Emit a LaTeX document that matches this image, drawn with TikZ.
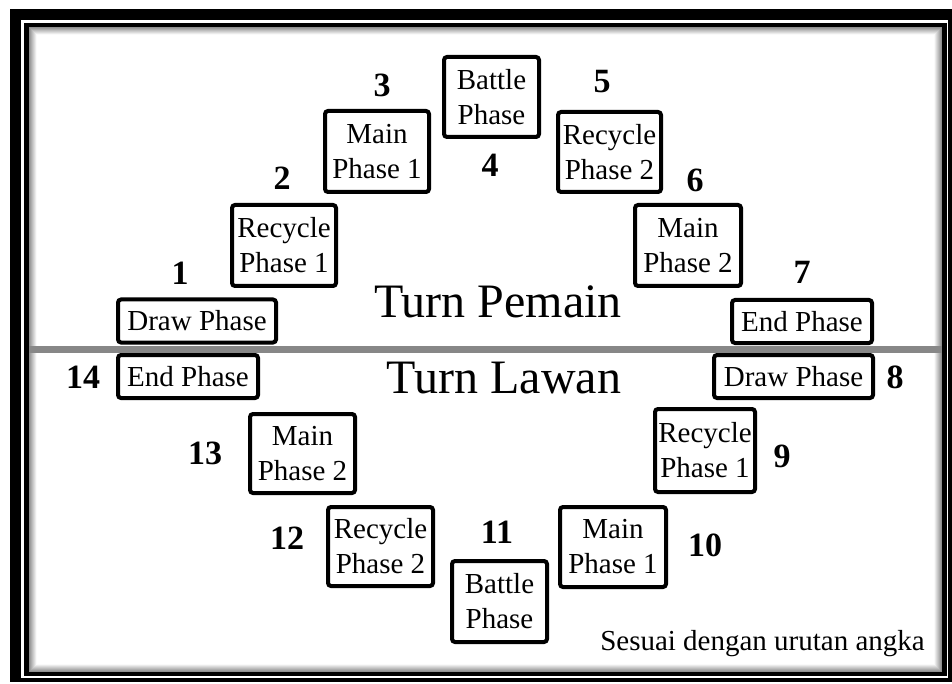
\documentclass[tikz,border=0pt]{standalone}
\usepackage{fontspec}
\setmainfont{Liberation Serif}
\tikzset{phase/.style={draw,line width=4pt,rounded corners=3pt,align=center,inner sep=0pt,font=\fontsize{29}{35}\selectfont},
  num/.style={inner sep=0pt,font=\fontsize{34}{40}\selectfont\bfseries},
  turn/.style={anchor=base,inner sep=0pt,font=\fontsize{48}{56}\selectfont}}

\begin{document}
\begin{tikzpicture}[x=1pt,y=-1pt]
\useasboundingbox (0,0) rectangle (952,684);
% frame with inner shadow
\fill[black] (10,9) rectangle (952,682);
\fill[white] (21,20) rectangle (948,678);
\fill[black] (24,23) rectangle (947,676);
\fill[white] (29,27) rectangle (942,672);
\foreach \i in {0,...,7}{
  \pgfmathtruncatemacro\g{44-6*\i}
  \draw[black!\g,line width=1pt] (29.5+\i,27.5+\i) rectangle (941.5-\i,671.5-\i);
}
% divider between the two turns
\fill[black!47] (29,346) rectangle (942,353);
% phases
\foreach \k/\x/\y/\w/\h/\t in {1/197/321/158/43/{Draw Phase},2/284/245.5/104/81/{Recycle\\Phase 1},
  3/377/151.5/104/81/{Main\\Phase 1},4/491.5/97/95/80/{Battle\\Phase},5/609.5/152/103/80/{Recycle\\Phase 2},
  6/688/245.5/106/81/{Main\\Phase 2},7/802/321.5/140/43/{End Phase},8/793.5/376.5/159/43/{Draw Phase},
  9/705/450.5/100/83/{Recycle\\Phase 1},10/613/547/106/80/{Main\\Phase 1},11/499.5/601.5/95/81/{Battle\\Phase},
  12/380.5/546.5/105/79/{Recycle\\Phase 2},13/302.5/453.5/105/79/{Main\\Phase 2},14/188/376.5/140/43/{End Phase}}{
  \node[phase,minimum width=\w pt,minimum height=\h pt] (p\k) at (\x,\y) {\t};
}
% order numbers
\foreach \k/\x/\y in {1/180/273,2/282/178,3/382/85,4/490/165,5/602/82,6/695/180,7/802/272,
  8/895/377,9/782/456,10/705/545,11/497/532,12/287/538,13/205/453,14/83/377}{
  \node[num] (n\k) at (\x,\y) {\k};
}
\node[turn] (pemain) at (498,317) {Turn Pemain};
\node[turn] (lawan) at (504,393) {Turn Lawan};
\node[anchor=base east,inner sep=0pt,font=\fontsize{29}{35}\selectfont] (note) at (925,650) {Sesuai dengan urutan angka};
\end{tikzpicture}
\end{document}
